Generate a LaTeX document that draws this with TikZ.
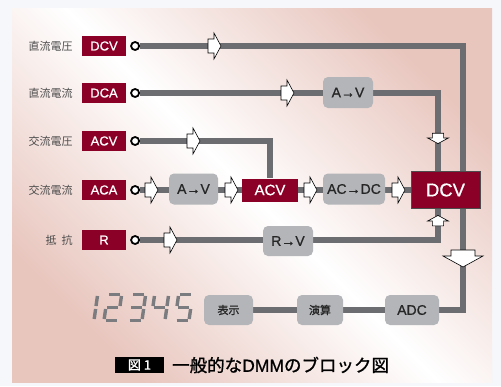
\documentclass[tikz,border=0pt]{standalone}
\usepackage{fontspec}
\setmainfont[FakeBold=0.7]{Liberation Sans}
\newfontfamily\jp{Noto Sans CJK JP}
\newfontfamily\jpm[FakeBold=1.2]{Noto Sans CJK JP}
\usetikzlibrary{positioning}
\definecolor{dmmred}{HTML}{8A0026}
\definecolor{boxgray}{HTML}{B3B5B8}
\definecolor{wiregray}{HTML}{6C6D71}
\definecolor{blush}{HTML}{E8C5BD}
\definecolor{pagebg}{HTML}{F6F7FB}
\pgfdeclarelayer{panel}
\pgfdeclarelayer{wires}
\pgfsetlayers{panel,wires,main}

\begin{document}
\begin{tikzpicture}[x=1pt,y=-1pt,
    inbox/.style={fill=dmmred,text=white,minimum width=44pt,minimum height=20pt,inner sep=0pt,font=\fontsize{13}{13}\selectfont},
    block/.style={fill=boxgray,rounded corners=5pt,text=black!85,minimum height=31pt,inner sep=0pt,font=\fontsize{14}{14}\selectfont},
    modelbl/.style={text=black!70,inner sep=0pt,font=\jp\fontsize{11}{11}\selectfont},
    jack/.style={circle,draw=black,line width=1.8pt,fill=white,minimum size=8pt,inner sep=0pt},
    signal/.style={draw=wiregray,line width=6pt},
    segline/.style={draw=wiregray!90,line width=3.4pt},
    hollow/.pic={\draw[fill=white,line width=0.6pt] (-6,-7) -- (0,-7) -- (0,-13) -- (7,0) -- (0,13) -- (0,7) -- (-6,7) -- cycle;},
    bighollow/.pic={\draw[fill=white,line width=0.6pt] (-6,-12) -- (0,-12) -- (0,-20) -- (11,0) -- (0,20) -- (0,12) -- (-6,12) -- cycle;}]
\useasboundingbox (0,0) rectangle (501,386);
\begin{pgfonlayer}{panel}
  \fill[pagebg] (0,0) rectangle (501,386);
  \shade[top color=blush,bottom color=blush,middle color=white,shading angle=-45] (12,8) rectangle (492,382);
\end{pgfonlayer}

% inputs
\node[inbox] (dcvin) at (104,46) {DCV};
\node[inbox] (dcain) at (104,93) {DCA};
\node[inbox] (acvin) at (104,141) {ACV};
\node[inbox] (acain) at (104,190) {ACA};
\node[inbox] (rin) at (104,240) {R};
\node[modelbl,left=9pt of dcvin] (dcvlbl) {直流電圧};
\node[modelbl,left=9pt of dcain] (dcalbl) {直流電流};
\node[modelbl,left=9pt of acvin] (acvlbl) {交流電圧};
\node[modelbl,left=9pt of acain] (acalbl) {交流電流};
\node[modelbl,left=9pt of rin] (rlbl) {抵\hspace{5pt}抗};
\node[jack,right=4pt of dcvin] (j1) {};
\node[jack,right=4pt of dcain] (j2) {};
\node[jack,right=4pt of acvin] (j3) {};
\node[jack,right=4pt of acain] (j4) {};
\node[jack,right=4pt of rin] (j5) {};

% blocks
\node[block,minimum width=50pt] (atov) at (348,92.5) {A→V};
\node[block,minimum width=49pt] (atov2) at (193.5,189) {A→V};
\node[inbox,minimum width=56pt,minimum height=23pt,font=\fontsize{15}{15}\selectfont] (acv) at (270,190) {ACV};
\node[block,minimum width=62pt] (acdc) at (354,189) {AC→DC};
\node[block,minimum width=50pt,minimum height=30pt] (rtov) at (288,241) {R→V};
\node[inbox,minimum width=69pt,minimum height=37pt,draw=black!70,font=\fontsize{18.5}{18.5}\selectfont] (dcv) at (445.5,190) {DCV};
\node[block,minimum width=54pt,minimum height=30pt] (adc) at (412,310) {ADC};
\node[block,minimum width=46pt,minimum height=30pt,font=\jpm\fontsize{11}{11}\selectfont] (calc) at (320,310) {演算};
\node[block,minimum width=49pt,minimum height=30pt,font=\jpm\fontsize{11}{11}\selectfont] (disp) at (228.5,310) {表示};

\begin{pgfonlayer}{wires}
  \draw[signal] (j1) -| ([xshift=17.5pt]dcv.center) |- (adc);
  \draw[signal] (j2) -| ([xshift=-7.5pt]dcv.center);
  \draw[signal] (j3) -| (acv);
  \draw[signal] (j4) -- (dcv);
  \draw[signal] (j5) -| ([xshift=-7.5pt]dcv.center);
  \draw[signal] (adc) -- (calc) -- (disp);
\end{pgfonlayer}

% hollow arrows
\pic at (214,46) {hollow};
\pic at (287,93) {hollow};
\pic at (193,141) {hollow};
\pic at (151,190) {hollow};
\pic at (231,190) {hollow};
\pic at (310,190) {hollow};
\pic at (398,190) {hollow};
\pic at (170,240) {hollow};
\pic[rotate=-90,scale=0.8] at (438,138) {hollow};
\pic[rotate=90,scale=0.8] at (438,221) {hollow};
\pic[rotate=-90] at (463,256) {bighollow};

% 7-segment readout
\foreach \x/\segs in {80/{b,c},104/{a,b,g,e,d},128/{a,b,g,c,d},151/{f,g,b,c},175/{a,f,g,c,d}} {
  \begin{scope}[shift={(\x,320.5)},xslant=0.14]
    \foreach \n/\p/\q in {a/{1.5,-26}/{12.5,-26},b/{14,-24.5}/{14,-14.5},c/{14,-11.5}/{14,-1.5},d/{1.5,0}/{12.5,0},e/{0,-11.5}/{0,-1.5},f/{0,-24.5}/{0,-14.5},g/{1.5,-13}/{12.5,-13}}
      {\coordinate (\n1) at (\p); \coordinate (\n2) at (\q);}
    \foreach \s in \segs {\draw[segline] (\s1) -- (\s2);}
  \end{scope}
}

% caption
\node[fill=black,text=white,minimum width=49pt,minimum height=16pt,inner sep=0pt,font=\jpm\fontsize{13}{13}\selectfont] (figno) at (139.5,365) {図 1};
\node[anchor=west,inner sep=0pt,font=\fontsize{17.5}{17.5}\selectfont] (title) at (172,365) {{\jpm 一般的な}DMM{\jpm のブロック図}};
\end{tikzpicture}
\end{document}
